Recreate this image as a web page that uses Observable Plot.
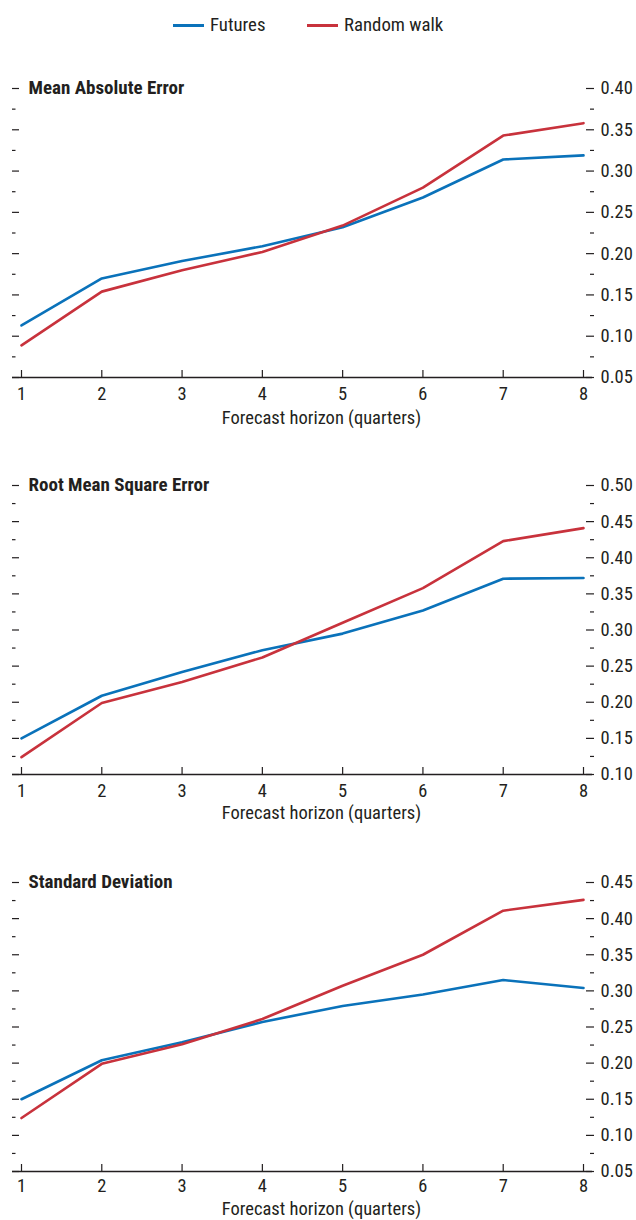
<!DOCTYPE html>
<html><head><meta charset="utf-8">
<script src="https://cdn.jsdelivr.net/npm/d3@7"></script>
<script src="https://cdn.jsdelivr.net/npm/@observablehq/plot@0.6"></script>
<style>
body{margin:0;background:#fff;font-family:"Roboto Condensed","Liberation Sans Narrow","Arial Narrow",sans-serif;}
#legend{height:49px;position:relative;}
.item{position:absolute;top:14px;font-size:18.8px;color:#231f20;display:flex;align-items:center;line-height:22px;}
.sw{display:inline-block;width:31px;height:3px;margin-right:6px;}
svg{display:block;}
</style></head><body>
<div id="legend"></div>
<div id="charts"></div>
<script>
// ---- data ----
const horizons = [1, 2, 3, 4, 5, 6, 7, 8];
const seriesNames = ["Futures", "Random walk"];
const seriesColors = ["#0a72ba", "#c8323c"];

const maeTitle = "Mean Absolute Error";
const maeFutures = [0.113, 0.170, 0.191, 0.209, 0.232, 0.268, 0.314, 0.319];
const maeRandomWalk = [0.089, 0.154, 0.180, 0.202, 0.234, 0.280, 0.343, 0.358];
const maeTicks = [0.05, 0.10, 0.15, 0.20, 0.25, 0.30, 0.35, 0.40];

const rmseTitle = "Root Mean Square Error";
const rmseFutures = [0.150, 0.209, 0.242, 0.272, 0.295, 0.327, 0.371, 0.372];
const rmseRandomWalk = [0.124, 0.199, 0.228, 0.262, 0.310, 0.358, 0.423, 0.441];
const rmseTicks = [0.10, 0.15, 0.20, 0.25, 0.30, 0.35, 0.40, 0.45, 0.50];

const sdTitle = "Standard Deviation";
const sdFutures = [0.150, 0.204, 0.229, 0.257, 0.279, 0.295, 0.315, 0.304];
const sdRandomWalk = [0.124, 0.199, 0.226, 0.261, 0.307, 0.350, 0.411, 0.426];
const sdTicks = [0.05, 0.10, 0.15, 0.20, 0.25, 0.30, 0.35, 0.40, 0.45];

const xLabel = "Forecast horizon (quarters)";

// ---- legend ----
const legendPos = [173, 307];
const legend = document.getElementById("legend");
seriesNames.forEach((name, i) => {
  const it = document.createElement("div");
  it.className = "item";
  it.style.left = legendPos[i] + "px";
  it.innerHTML = `<span class="sw" style="background:${seriesColors[i]}"></span>${name}`;
  legend.appendChild(it);
});

// ---- panels ----
const ink = "#231f20";
const font = '"Roboto Condensed","Liberation Sans Narrow","Arial Narrow",sans-serif';
const plotH = 289;

function panel(title, fut, rw, ticks, height, labelDy, xPad) {
  const data = horizons.flatMap((q, i) => [
    {q, v: fut[i], s: seriesNames[0]},
    {q, v: rw[i], s: seriesNames[1]}
  ]);
  const minor = ticks.slice(1).map((t, i) => (t + ticks[i]) / 2);
  const domain = [ticks[0], ticks[ticks.length - 1]];
  return Plot.plot({
    width: 636,
    height,
    marginTop: 39,
    marginLeft: 21,
    marginRight: 53,
    marginBottom: height - 39 - plotH,
    style: {fontFamily: font, fontSize: "18.5px", color: ink, background: "#fff"},
    x: {domain: [1, 8]},
    y: {domain},
    color: {domain: seriesNames, range: seriesColors},
    marks: [
      // left ticks (no labels)
      Plot.axisY(ticks, {anchor: "left", tickSize: 7, dx: -2, tickFormat: () => "", label: null, stroke: ink, strokeWidth: 1.2}),
      Plot.axisY(minor, {anchor: "left", tickSize: 3.5, dx: -5.5, tickFormat: () => "", label: null, stroke: ink, strokeWidth: 1.2}),
      // right ticks with labels
      Plot.axisY(ticks, {anchor: "right", tickSize: 8, dx: 2, tickPadding: 7, tickFormat: d3.format(".2f"), label: null, stroke: ink, strokeWidth: 1.2, fill: ink}),
      Plot.axisY(minor, {anchor: "right", tickSize: 4, dx: 6, tickFormat: () => "", label: null, stroke: ink, strokeWidth: 1.2}),
      // x axis
      Plot.ruleY([domain[0]], {insetLeft: -9, insetRight: -9, stroke: ink, strokeWidth: 1.3}),
      Plot.ruleX(horizons, {x: d => d, insetTop: plotH - 7, stroke: ink, strokeWidth: 1.2}),
      Plot.axisX(horizons, {anchor: "bottom", tickSize: 0, tickPadding: xPad, tickFormat: d3.format("d"), label: null, fill: ink}),
      Plot.text([xLabel], {frameAnchor: "bottom", dx: 19, dy: labelDy, lineAnchor: "top", fill: ink, fontSize: 18.5}),
      // title
      Plot.text([title], {frameAnchor: "top-left", dx: 7, dy: 5, textAnchor: "start", lineAnchor: "bottom", fontWeight: "bold", fill: ink, fontSize: 19}),
      // lines
      Plot.lineY(data, {x: "q", y: "v", z: "s", stroke: "s", strokeWidth: 2.6})
    ]
  });
}

const charts = document.getElementById("charts");
charts.appendChild(panel(maeTitle, maeFutures, maeRandomWalk, maeTicks, 397, 33, 9));
charts.appendChild(panel(rmseTitle, rmseFutures, rmseRandomWalk, rmseTicks, 397, 31, 9));
charts.appendChild(panel(sdTitle, sdFutures, sdRandomWalk, sdTicks, 377, 30, 7));
</script>
</body></html>
